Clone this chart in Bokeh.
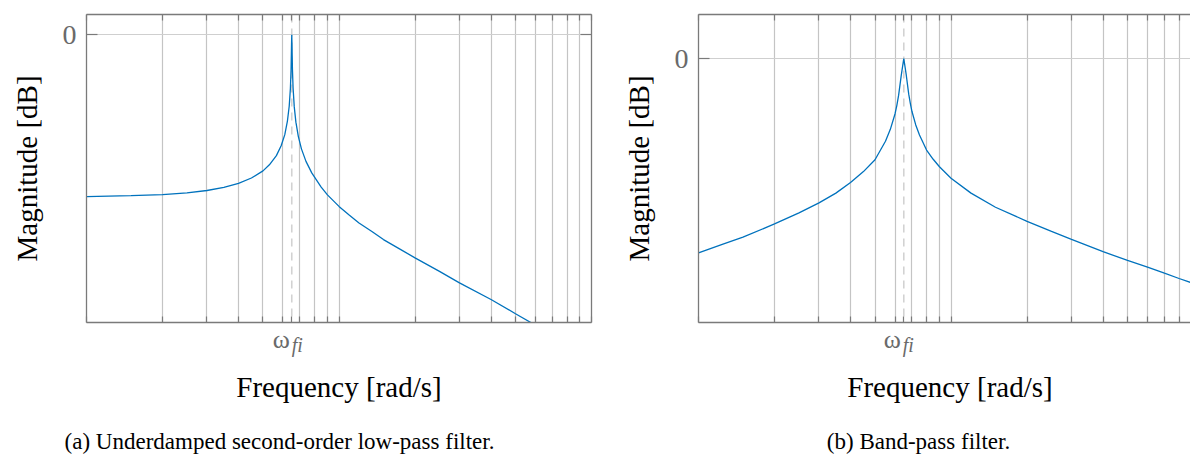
from bokeh.plotting import figure
from bokeh.models import FixedTicker, LogAxis, LinearAxis, Range1d, Label, Span
from bokeh.layouts import row, column
from bokeh.embed import file_html
from bokeh.resources import INLINE

# ---------------- data ----------------
omega_fi = 6.5
decades = [1, 10, 100]
minor_grid = [2, 3, 4, 5, 6, 7, 8, 9, 20, 30, 40, 50, 60, 70, 80, 90]

# (a) underdamped second-order low-pass filter
lp_freq = [1, 1.5, 2, 2.5, 3, 3.5, 4, 4.5, 5, 5.3, 5.65, 5.9, 6.1, 6.25, 6.35,
           6.42, 6.46, 6.49, 6.5, 6.51, 6.54, 6.58, 6.65, 6.75, 6.9, 7.1, 7.4,
           7.8, 8.5, 9, 10, 11, 12, 13.5, 15, 17.5, 20, 25, 30, 40, 50, 60, 70]
lp_mag = [-47.8, -47.5, -47.2, -46.7, -46.0, -45.1, -43.9, -42.3, -40.2, -38.4,
          -35.7, -32.8, -29.5, -25.4, -21.1, -15.8, -10.2, -2.0, 0.0, -2.0, -10.2,
          -15.8, -21.3, -25.8, -30.0, -33.7, -37.4, -40.8, -45.0, -47.3, -50.7,
          -53.3, -55.6, -58.1, -60.5, -63.4, -65.9, -69.9, -73.3, -78.2, -82.4,
          -85.8, -88.5]

# (b) band-pass filter
bp_freq = [1, 1.25, 1.5, 2, 2.5, 3, 3.5, 4, 4.5, 5, 5.5, 5.75, 6.0, 6.1, 6.2, 6.35,
           6.5, 6.65, 6.8, 6.9, 7.0, 7.25, 7.5, 8, 8.5, 9, 10, 12, 15, 20, 25, 30,
           40, 50, 60, 70, 80, 90, 100]
bp_mag = [-44.2, -42.2, -40.6, -37.6, -35.1, -32.8, -30.6, -28.2, -25.7, -23.0,
          -18.8, -16.1, -12.6, -10.7, -8.4, -3.9, 0.0, -3.8, -8.1, -10.2, -12.0,
          -15.1, -17.4, -20.8, -22.9, -24.6, -27.2, -30.6, -33.8, -37.0, -39.3,
          -41.1, -43.9, -45.9, -47.4, -48.8, -50.0, -51.0, -51.9]

y_label = "Magnitude [dB]"
x_label = "Frequency [rad/s]"
tick_omega = "ω"
tick_sub = "fi"
captions = ["(a) Underdamped second-order low-pass filter.", "(b) Band-pass filter."]

# ---------------- styling / layout constants ----------------
FONT = "Liberation Serif"
AXIS_COL = "#7a7a7a"
GRID_COL = "#c4c4c4"
TICKLAB_COL = "#6a6a6a"
LINE_COL = "#0072BD"
DECADE_PX = 252.5          # pixels per decade on the frequency axis
FRAME_H = 308
TOP_B = 14
BOT_B = 4
TEXT_H = 456 - TOP_B - FRAME_H - BOT_B


def style_bare_axis(ax):
    ax.axis_line_color = AXIS_COL
    ax.axis_line_width = 1.3
    ax.minor_tick_line_color = AXIS_COL
    ax.minor_tick_line_width = 1.2
    ax.minor_tick_out = 0
    ax.major_tick_in = 0
    ax.major_tick_out = 0
    ax.major_label_standoff = 0
    ax.axis_label_standoff = 0
    ax.major_label_text_font_size = "0px"


def style_x_axis(ax):
    ax.ticker = FixedTicker(ticks=[], minor_ticks=decades + minor_grid + [omega_fi])
    style_bare_axis(ax)
    ax.minor_tick_in = 6


def make_fig(freq, mag, x_end, y_rng, frame_w, border_l, border_r, right_axis):
    p = figure(x_axis_type="log", x_range=Range1d(1, x_end), y_range=Range1d(*y_rng),
               frame_width=frame_w, frame_height=FRAME_H, title=None,
               min_border_left=border_l, min_border_right=border_r,
               min_border_top=TOP_B, min_border_bottom=BOT_B,
               toolbar_location=None, output_backend="svg")
    p.outline_line_color = None
    p.background_fill_color = "white"
    p.border_fill_color = "white"

    p.xgrid.ticker = FixedTicker(ticks=decades + minor_grid)
    p.xgrid.grid_line_color = GRID_COL
    p.xgrid.grid_line_width = 1.2
    p.ygrid.ticker = FixedTicker(ticks=[0])
    p.ygrid.grid_line_color = "#cfcfcf"
    p.ygrid.grid_line_width = 1.2

    p.add_layout(Span(location=omega_fi, dimension="height", line_color="#d2d2d2",
                      line_width=1.6, line_dash="8 6", level="underlay"))

    style_x_axis(p.xaxis[0])
    top = LogAxis()
    style_x_axis(top)
    p.add_layout(top, "above")

    ya = p.yaxis[0]
    ya.ticker = FixedTicker(ticks=[0], minor_ticks=[])
    ya.axis_line_color = AXIS_COL
    ya.axis_line_width = 1.3
    ya.major_tick_line_color = AXIS_COL
    ya.major_tick_line_width = 1.2
    ya.major_tick_in = 11
    ya.major_tick_out = 0
    ya.major_label_text_font = FONT
    ya.major_label_text_font_size = "28px"
    ya.major_label_text_color = TICKLAB_COL
    ya.major_label_standoff = 10
    ya.axis_label = y_label
    ya.axis_label_text_font = FONT
    ya.axis_label_text_font_size = "29px"
    ya.axis_label_text_font_style = "normal"
    ya.axis_label_text_color = "black"
    ya.axis_label_standoff = 17

    if right_axis:
        ra = LinearAxis(ticker=FixedTicker(ticks=[], minor_ticks=[0]))
        style_bare_axis(ra)
        ra.minor_tick_in = 11
        p.add_layout(ra, "right")

    p.line(freq, mag, line_color=LINE_COL, line_width=1.3)
    return p


def make_text_fig(width, border_l, frame_w, caption, cap_center):
    # same log mapping as the plot above it, stretched across the whole width
    x0 = 10 ** (-border_l / DECADE_PX)
    x1 = 10 ** ((width - border_l) / DECADE_PX)
    t = figure(width=width, height=TEXT_H, x_axis_type="log", title=None,
               x_range=Range1d(x0, x1), y_range=Range1d(TEXT_H, 0),
               x_axis_location=None, y_axis_location=None,
               min_border_left=0, min_border_right=0,
               min_border_top=0, min_border_bottom=0,
               toolbar_location=None, output_backend="svg")
    t.outline_line_color = None
    t.grid.visible = False
    t.background_fill_color = "white"
    t.border_fill_color = "white"

    t.add_layout(Label(x=omega_fi, y=12.5, x_offset=-2, text=tick_omega,
                       text_font=FONT, text_font_size="26px", text_color=TICKLAB_COL,
                       text_align="right", text_baseline="alphabetic"))
    t.add_layout(Label(x=omega_fi, y=18.5, x_offset=0, text=tick_sub,
                       text_font=FONT, text_font_size="20px", text_font_style="italic",
                       text_color=TICKLAB_COL, text_align="left",
                       text_baseline="alphabetic"))
    t.add_layout(Label(x=border_l + frame_w / 2, y=60, x_units="screen", text=x_label,
                       text_font=FONT, text_font_size="29px", text_color="black",
                       text_align="center", text_baseline="alphabetic"))
    t.add_layout(Label(x=cap_center, y=TEXT_H - 15, x_units="screen", text=caption,
                       text_font=FONT, text_font_size="23px", text_color="black",
                       text_align="center", text_baseline="alphabetic"))
    return t


p1 = make_fig(lp_freq, lp_mag, 100, (-85, 6), 505, 86, 28, True)
p2 = make_fig(bp_freq, bp_mag, 89.6, (-60, 10), 493, 78, 0, False)
t1 = make_text_fig(619, 86, 505, captions[0], 279)
t2 = make_text_fig(571, 78, 505, captions[1], 299)

layout = column(row(p1, p2), row(t1, t2))
open("out.html", "w").write(file_html(layout, INLINE))
